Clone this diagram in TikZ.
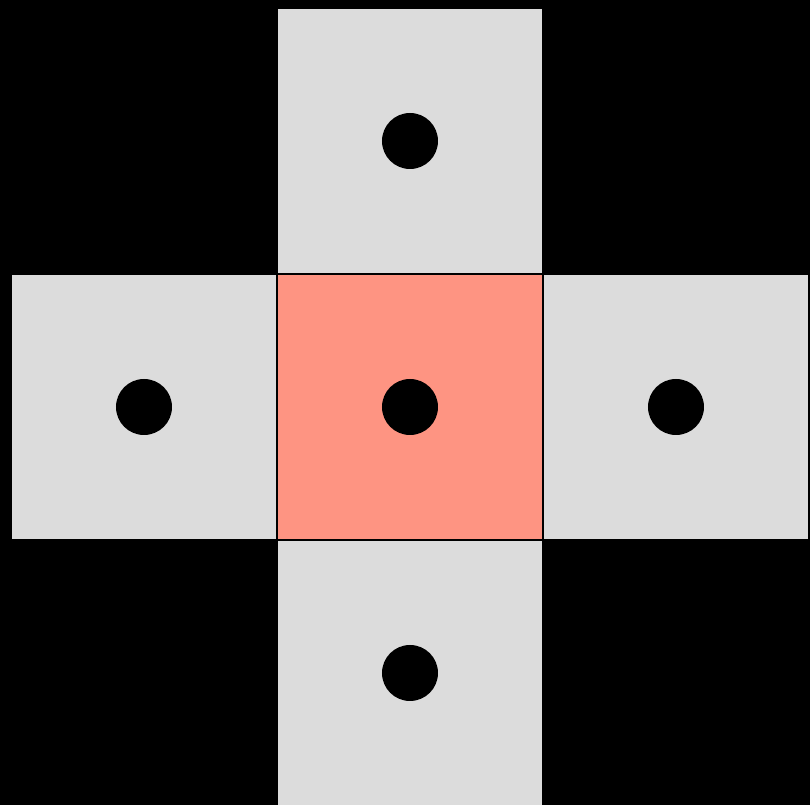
\documentclass[tikz,border=0pt]{standalone}
\usetikzlibrary{positioning}
\definecolor{cellgray}{RGB}{220,220,220}
\definecolor{cellred}{RGB}{254,148,130}
\begin{document}
\begin{tikzpicture}[
  cell/.style={draw=black, line width=0.6pt, fill=cellgray, minimum size=2.66cm, inner sep=0pt, outer sep=0pt},
  center/.style={cell, fill=cellred},
  dot/.style={circle, fill=black, minimum size=0.56cm, inner sep=0pt}
]

% Background
\fill[black] (0,0) rectangle (8.1,8.05);
\useasboundingbox (0,0) rectangle (8.1,8.05);

% Cells
\def\Cx{4.10}
\def\Cy{3.98}

\node[center] (C) at (\Cx, \Cy) {};
\node[cell, above=0pt of C] (N) {};
\node[cell, below=0pt of C] (S) {};
\node[cell, left=0pt of C] (W) {};
\node[cell, right=0pt of C] (E) {};

% Dots
\foreach \c in {C, N, S, W, E}
  \node[dot] (d\c) at (\c.center) {};

\end{tikzpicture}
\end{document}
